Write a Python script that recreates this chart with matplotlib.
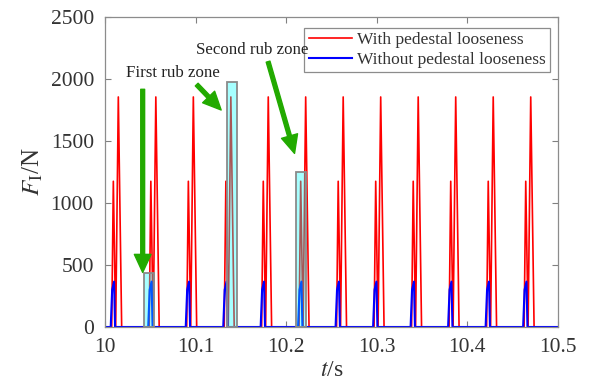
import matplotlib
matplotlib.use("Agg")
import matplotlib.pyplot as plt
from matplotlib.patches import Rectangle

# Peak instants of the impact force (s)
peak_times = [10.0147, 10.0561, 10.0975, 10.1389, 10.1802, 10.2215,
              10.2629, 10.3043, 10.3457, 10.3871, 10.4285, 10.4699]

# One impact pulse, offsets relative to the peak instant (s) and force (N)
red_dt = [-0.0073, -0.0055, -0.0029, 0.0, 0.0037]
red_f = [0, 1175, 0, 1855, 0]
blue_dt = [-0.0084, -0.0068, -0.0047, -0.0036]
blue_f = [0, 300, 366, 0]

# Rub zones: (start time, end time, height)
rub_zones = [(10.0434, 10.0544, 433),
             (10.1350, 10.1460, 1973),
             (10.2105, 10.2215, 1252)]

t_start, t_end = 10.0, 10.5
x_ticks = [10.0, 10.1, 10.2, 10.3, 10.4, 10.5]
x_ticklabels = ["10", "10.1", "10.2", "10.3", "10.4", "10.5"]
y_ticks = [0, 500, 1000, 1500, 2000, 2500]


def build_series(dts, fs):
    t, f = [t_start], [0.0]
    for tp in peak_times:
        for d, v in zip(dts, fs):
            t.append(tp + d)
            f.append(v)
    t.append(t_end)
    f.append(0.0)
    return t, f


t_red, f_red = build_series(red_dt, red_f)
t_blue, f_blue = build_series(blue_dt, blue_f)

plt.rcParams["font.family"] = ["Liberation Serif", "DejaVu Serif"]
plt.rcParams["mathtext.fontset"] = "stix"

W, H = 589, 391
fig = plt.figure(figsize=(W / 100, H / 100), dpi=100)
ax = fig.add_axes([105 / W, (H - 327) / H, 453 / W, 310 / H])

ax.plot(t_red, f_red, color="#ff0000", lw=1.2, label="With pedestal looseness")
ax.plot(t_blue, f_blue, color="#0000ff", lw=1.5, label="Without pedestal looseness")

for a, b, h in rub_zones:
    ax.add_patch(Rectangle((a, 0), b - a, h, facecolor="#00ffff", alpha=0.35,
                           edgecolor="none", zorder=3))
    ax.add_patch(Rectangle((a, 0), b - a, h, facecolor="none",
                           edgecolor="#8a8a8a", lw=1.3, zorder=4))

green = "#22aa00"
arrow_kw = dict(color=green, width=2.8, headwidth=12, headlength=13, shrink=0)
ax.annotate("", xy=(10.0416, 440), xytext=(10.0416, 1917), arrowprops=arrow_kw, zorder=5)
ax.annotate("", xy=(10.1282, 1750), xytext=(10.1012, 1955), arrowprops=arrow_kw, zorder=5)
ax.annotate("", xy=(10.2092, 1400), xytext=(10.1800, 2140), arrowprops=arrow_kw, zorder=5)

ax.text(10.0745, 2045, "First rub zone", fontsize=12.2, ha="center", va="center",
        color="#222222", zorder=6)
ax.text(10.1623, 2230, "Second rub zone", fontsize=12.2, ha="center", va="center",
        color="#222222", zorder=6)

ax.set_xlim(t_start, t_end)
ax.set_ylim(0, 2500)
ax.set_xticks(x_ticks)
ax.set_xticklabels(x_ticklabels)
ax.set_yticks(y_ticks)
ax.tick_params(direction="in", length=4, width=0.8, colors="#808080",
               labelcolor="#333333", labelsize=15.5, top=True, right=True, pad=8)
for s in ax.spines.values():
    s.set_color("#8c8c8c")
    s.set_linewidth(0.9)

ax.set_xlabel(r"$t$/s", fontsize=17, color="#333333", labelpad=2)
ax.set_ylabel(r"$F_\mathrm{I}$/N", fontsize=18, color="#333333", labelpad=4)

leg = ax.legend(loc="upper right", bbox_to_anchor=(0.983, 0.965), fontsize=12.5,
                frameon=True, fancybox=False, framealpha=1, edgecolor="#8c8c8c",
                handlelength=2.5, handletextpad=0.3, labelspacing=0.2,
                borderpad=0.25, borderaxespad=0)
leg.get_frame().set_linewidth(0.9)
for txt in leg.get_texts():
    txt.set_color("#333333")

fig.savefig("out.png", dpi=100)
